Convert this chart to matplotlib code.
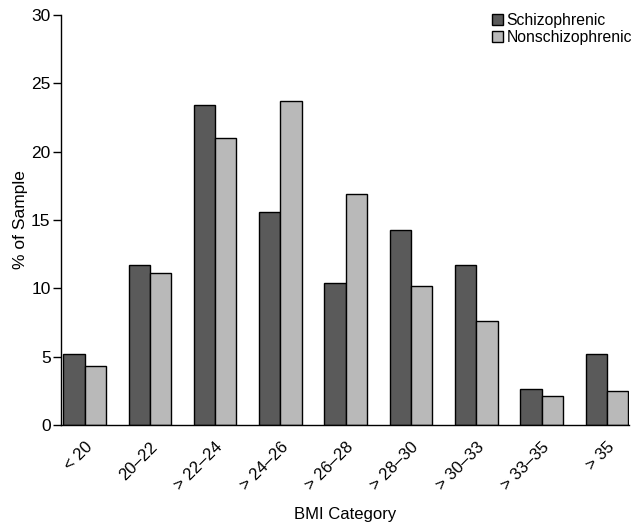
import numpy as np
import matplotlib.pyplot as plt

plt.rcParams['font.family'] = ['Liberation Sans', 'DejaVu Sans']

# BMI categories and percentages
categories = ['< 20', '20\u201322', '> 22\u201324', '> 24\u201326', '> 26\u201328',
              '> 28\u201330', '> 30\u201333', '> 33\u201335', '> 35']
schizophrenic = [5.2, 11.7, 23.4, 15.6, 10.4, 14.3, 11.7, 2.6, 5.2]
nonschizophrenic = [4.3, 11.1, 21.0, 23.7, 16.9, 10.2, 7.6, 2.1, 2.5]

fig = plt.figure(figsize=(6.33, 5.29), dpi=100)
ax = fig.add_axes([0.0964, 0.1966, 0.8973, 0.775])

x = np.arange(len(categories))
w = 0.326
ax.bar(x - w / 2, schizophrenic, w, color='#5a5a5a', edgecolor='black',
       linewidth=1, label='Schizophrenic')
ax.bar(x + w / 2, nonschizophrenic, w, color='#b9b9b9', edgecolor='black',
       linewidth=1, label='Nonschizophrenic')

ax.set_ylim(0, 30)
ax.set_xlim(-0.36, 8.34)
ax.set_yticks(range(0, 31, 5))
ax.tick_params(axis='y', labelsize=12.5, length=6, width=1, pad=1.5, direction='out')
ax.tick_params(axis='x', length=0, labelsize=12, pad=14)
ax.set_xticks(x + 0.08)
ax.set_xticklabels(categories, rotation=45, ha='right', va='center',
                   rotation_mode='anchor')

ax.spines['top'].set_visible(False)
ax.spines['right'].set_visible(False)
ax.spines['left'].set_linewidth(1)
ax.spines['bottom'].set_linewidth(1)

ax.set_ylabel('% of Sample', fontsize=12.5, labelpad=2)
ax.set_xlabel('BMI Category', fontsize=12, labelpad=10)

fig.legend(loc='upper right', frameon=False, fontsize=11.3, handlelength=0.7,
           handleheight=0.7, handletextpad=0.2, labelspacing=0.12,
           borderpad=0, borderaxespad=0,
           bbox_to_anchor=(632 / 633, 1 - 13 / 529))

fig.savefig('out.png', dpi=100)
